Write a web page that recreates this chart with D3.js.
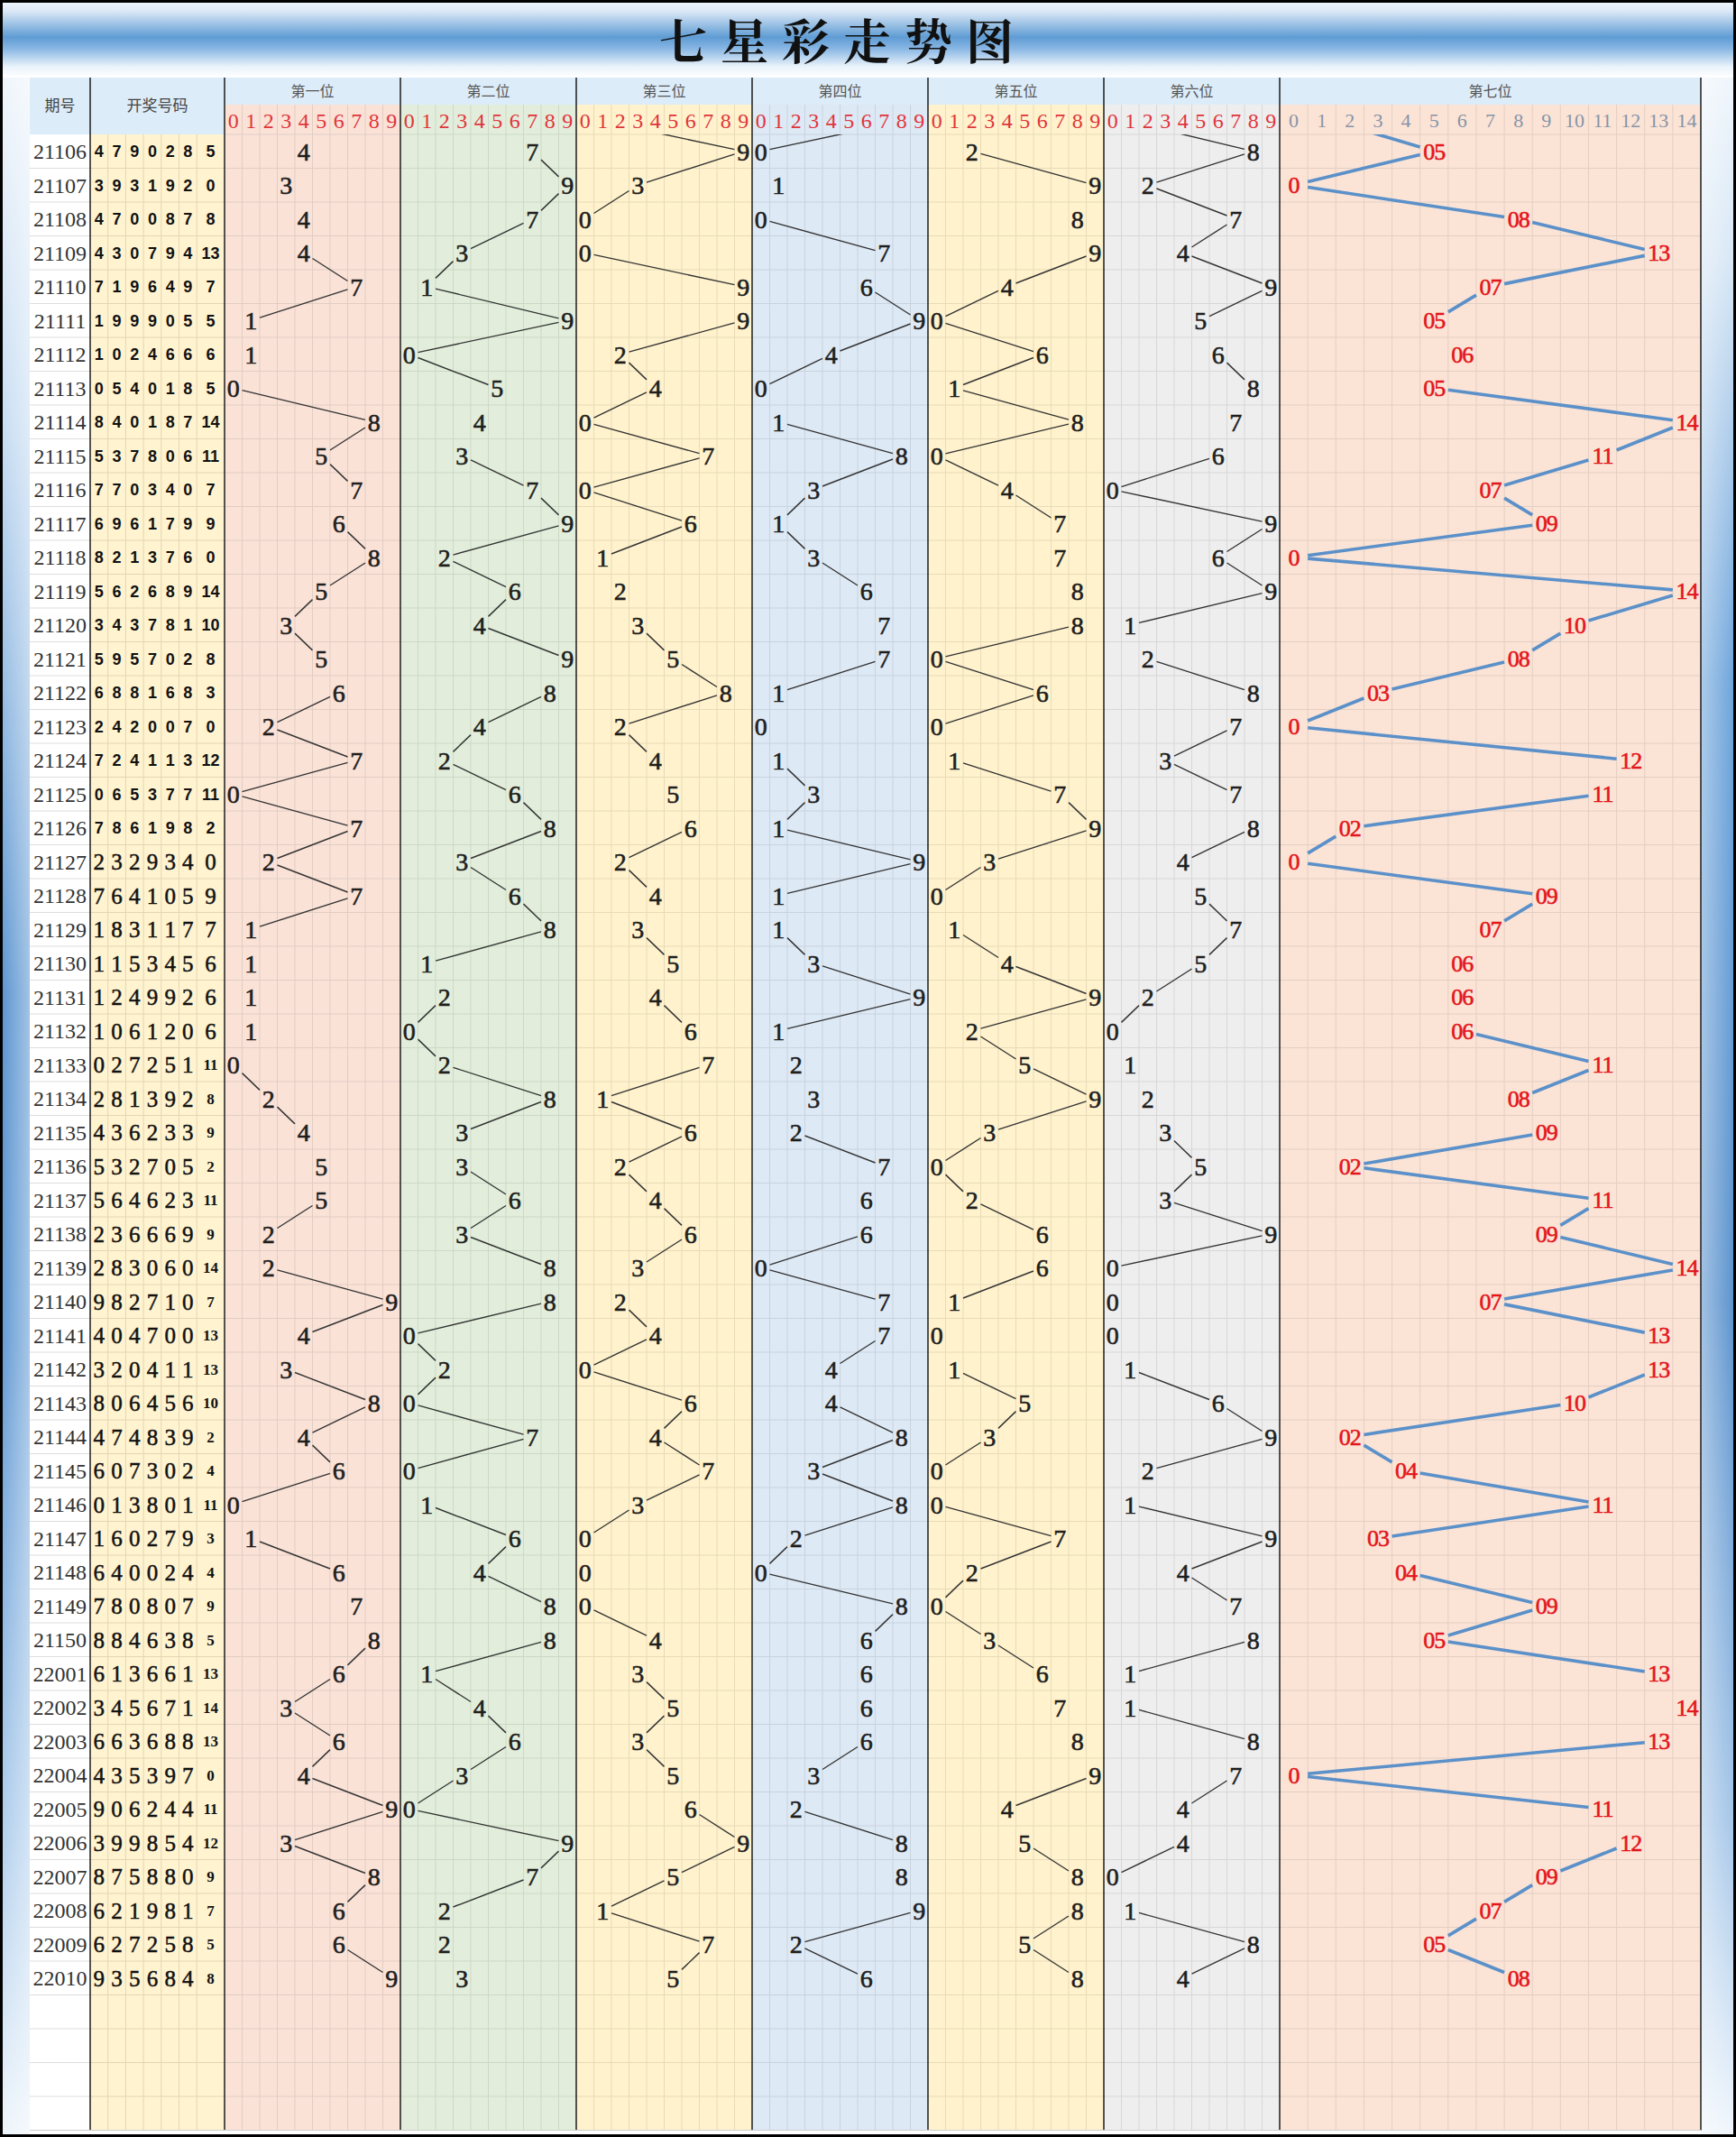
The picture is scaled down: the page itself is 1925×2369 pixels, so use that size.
<!DOCTYPE html>
<html>
<head>
<meta charset="utf-8">
<script src="https://cdn.jsdelivr.net/npm/d3@7"></script>
<style>
body { margin: 0; background: #fff; }
svg { display: block; }
</style>
</head>
<body>
<svg id="chart"></svg>
<script>
// 期号
var periods = ["21106","21107","21108","21109","21110","21111","21112","21113","21114","21115",
    "21116","21117","21118","21119","21120","21121","21122","21123","21124","21125",
    "21126","21127","21128","21129","21130","21131","21132","21133","21134","21135",
    "21136","21137","21138","21139","21140","21141","21142","21143","21144","21145",
    "21146","21147","21148","21149","21150","22001","22002","22003","22004","22005",
    "22006","22007","22008","22009","22010"];

// 开奖号码, one array per position
var pos1 = [4,3,4,4,7,1,1,0,8,5,7,6,8,5,3,5,6,2,7,0,7,2,7,1,1,1,1,0,2,4,5,5,2,2,9,4,3,8,4,6,0,1,6,7,8,6,3,6,4,9,3,8,6,6,9];
var pos2 = [7,9,7,3,1,9,0,5,4,3,7,9,2,6,4,9,8,4,2,6,8,3,6,8,1,2,0,2,8,3,3,6,3,8,8,0,2,0,7,0,1,6,4,8,8,1,4,6,3,0,9,7,2,2,3];
var pos3 = [9,3,0,0,9,9,2,4,0,7,0,6,1,2,3,5,8,2,4,5,6,2,4,3,5,4,6,7,1,6,2,4,6,3,2,4,0,6,4,7,3,0,0,0,4,3,5,3,5,6,9,5,1,7,5];
var pos4 = [0,1,0,7,6,9,4,0,1,8,3,1,3,6,7,7,1,0,1,3,1,9,1,1,3,9,1,2,3,2,7,6,6,0,7,7,4,4,8,3,8,2,0,8,6,6,6,6,3,2,8,8,9,2,6];
var pos5 = [2,9,8,9,4,0,6,1,8,0,4,7,7,8,8,0,6,0,1,7,9,3,0,1,4,9,2,5,9,3,0,2,6,6,1,0,1,5,3,0,0,7,2,0,3,6,7,8,9,4,5,8,8,5,8];
var pos6 = [8,2,7,4,9,5,6,8,7,6,0,9,6,9,1,2,8,7,3,7,8,4,5,7,5,2,0,1,2,3,5,3,9,0,0,0,1,6,9,2,1,9,4,7,8,1,1,8,7,4,4,0,1,8,4];
var pos7 = [5,0,8,13,7,5,6,5,14,11,7,9,0,14,10,8,3,0,12,11,2,0,9,7,6,6,6,11,8,9,2,11,9,14,7,13,13,10,2,4,11,3,4,9,5,13,14,13,0,11,12,9,7,5,8];

// value of the period before 21106 (its row is hidden under the header)
var prevDraw = [4, 7, 0, 9, 2, 0, 1];

var groupNames = ["第一位","第二位","第三位","第四位","第五位","第六位","第七位"];
var digitTicks = ["0","1","2","3","4","5","6","7","8","9"];
var lastTicks = ["0","1","2","3","4","5","6","7","8","9","10","11","12","13","14"];

var series = [pos1, pos2, pos3, pos4, pos5, pos6, pos7];

var W = 1925, H = 2369;
var tableLeft = 33, tableRight = 1886, tableTop = 86;
var head1 = 116, dataTop = 149, rowH = 37.5, blankRows = 4;
var nRows = periods.length + blankRows;
var tableBottom = dataTop + nRows * rowH;
var groupW = 195;
var groupColors = ["#fae2d7","#e2eedb","#fff2cc","#dde9f5","#fff2cc","#eeeeee","#fbe4d6"];
var numEdges = [100, 119.7, 139.4, 159.1, 178.8, 198.5, 218.2, 249];

var serif = "'Liberation Serif','Times New Roman','DejaVu Serif',serif";
var sans = "'Liberation Sans',Arial,sans-serif";
var cjk = "'Noto Sans CJK SC','Noto Sans',sans-serif";

var svg = d3.select("#chart").attr("width", W).attr("height", H);
var defs = svg.append("defs");

function linGrad(id, vertical, stops) {
    var g = defs.append("linearGradient").attr("id", id)
        .attr("x1", 0).attr("y1", 0)
        .attr("x2", vertical ? 0 : 1).attr("y2", vertical ? 1 : 0);
    stops.forEach(function (s) {
        g.append("stop").attr("offset", s[0]).attr("stop-color", s[1])
            .attr("stop-opacity", s.length > 2 ? s[2] : 1);
    });
}

linGrad("banner", true, [[0, "#f3f8fd"], [0.14, "#dce9f6"], [0.48, "#5f9cd4"], [0.62, "#86b5e3"], [0.86, "#eaf3fb"], [1, "#ffffff"]]);
linGrad("sideL", true, [[0, "#f2f7fc"], [0.18, "#c6dcf2"], [0.45, "#5792cf"], [0.62, "#6199d3"], [0.85, "#aecdec"], [1, "#eef5fb"]]);
linGrad("sideR", true, [[0, "#f2f7fc"], [0.1, "#d6e6f5"], [0.3, "#6aa2da"], [0.6, "#5890cc"], [0.85, "#a3c5e8"], [1, "#f0f6fc"]]);
linGrad("fadeL", false, [[0, "#fff", 0], [1, "#fff", 0.45]]);
linGrad("fadeR", false, [[0, "#fff", 0.45], [1, "#fff", 0]]);

defs.append("clipPath").attr("id", "dataClip")
    .append("rect").attr("x", 0).attr("y", dataTop).attr("width", W).attr("height", tableBottom - dataTop);

svg.append("rect").attr("width", W).attr("height", H).attr("fill", "#fff");

// side strips and title banner
svg.append("rect").attr("x", 0).attr("y", 60).attr("width", tableLeft).attr("height", H - 60).attr("fill", "url(#sideL)");
svg.append("rect").attr("x", 0).attr("y", 60).attr("width", tableLeft).attr("height", H - 60).attr("fill", "url(#fadeL)");
svg.append("rect").attr("x", tableRight).attr("y", 60).attr("width", W - tableRight).attr("height", H - 60).attr("fill", "url(#sideR)");
svg.append("rect").attr("x", tableRight).attr("y", 60).attr("width", W - tableRight).attr("height", H - 60).attr("fill", "url(#fadeR)");
svg.append("rect").attr("x", 0).attr("y", 0).attr("width", W).attr("height", tableTop).attr("fill", "url(#banner)");

svg.append("text")
    .attr("x", 935).attr("y", 66)
    .attr("text-anchor", "middle")
    .style("font-family", "'Noto Serif CJK SC','Noto Sans CJK SC',sans-serif")
    .style("font-size", "53px")
    .style("font-weight", "700")
    .style("letter-spacing", "15px")
    .style("fill", "#111")
    .text("七星彩走势图");

// header background
svg.append("rect").attr("x", tableLeft).attr("y", tableTop).attr("width", tableRight - tableLeft).attr("height", head1 - tableTop).attr("fill", "#dcecf9");
svg.append("rect").attr("x", tableLeft).attr("y", tableTop).attr("width", numEdges[7] - tableLeft).attr("height", dataTop - tableTop).attr("fill", "#dcecf9");

// body backgrounds
var rowY = d3.scaleBand().domain(d3.range(-1, nRows)).range([dataTop - rowH, tableBottom]);

svg.append("rect").attr("x", tableLeft).attr("y", dataTop).attr("width", 100 - tableLeft).attr("height", tableBottom - dataTop).attr("fill", "#fff");
svg.append("rect").attr("x", 100).attr("y", dataTop).attr("width", 149).attr("height", tableBottom - dataTop).attr("fill", "#fff3d0");

var colScales = series.map(function (s, gi) {
    if (gi < 6) {
        var x0 = numEdges[7] + gi * groupW;
        return d3.scaleBand().domain(d3.range(10)).range([x0, x0 + groupW]);
    }
    return d3.scaleBand().domain(d3.range(15)).range([1419, tableRight]);
});

colScales.forEach(function (sc, gi) {
    var r = sc.range();
    svg.append("rect").attr("x", r[0]).attr("y", head1).attr("width", r[1] - r[0]).attr("height", tableBottom - head1)
        .attr("fill", groupColors[gi]);
    var gridColor = d3.color(groupColors[gi]).darker(0.28).formatHex();
    var g = svg.append("g").attr("stroke", gridColor).attr("stroke-width", 1);
    sc.domain().slice(1).forEach(function (d) {
        g.append("line").attr("x1", sc(d)).attr("x2", sc(d)).attr("y1", head1).attr("y2", tableBottom);
    });
    d3.range(0, nRows).forEach(function (i) {
        g.append("line").attr("x1", r[0]).attr("x2", r[1]).attr("y1", rowY(i)).attr("y2", rowY(i));
    });
});

// grid in number and period columns
var ng = svg.append("g").attr("stroke", "#e6d6b0").attr("stroke-width", 1);
numEdges.slice(1, 7).forEach(function (x) {
    ng.append("line").attr("x1", x).attr("x2", x).attr("y1", dataTop).attr("y2", tableBottom);
});
d3.range(1, nRows + 1).forEach(function (i) {
    var y = dataTop + i * rowH;
    ng.append("line").attr("x1", 100).attr("x2", 249).attr("y1", y).attr("y2", y);
    svg.append("line").attr("x1", tableLeft).attr("x2", 100).attr("y1", y).attr("y2", y)
        .attr("stroke", "#dddddd").attr("stroke-width", 1.2);
});

// group separators
var seps = [100, 249].concat(colScales.map(function (sc) { return sc.range()[1]; }));
seps.forEach(function (x) {
    svg.append("line").attr("x1", x).attr("x2", x).attr("y1", tableTop).attr("y2", tableBottom)
        .attr("stroke", "#2a2a2a").attr("stroke-width", 1.6);
});

// header texts
svg.append("text").attr("x", 66.5).attr("y", (tableTop + dataTop) / 2).attr("dy", "0.35em")
    .attr("text-anchor", "middle").style("font-family", cjk).style("font-size", "17px").style("fill", "#444").text("期号");
svg.append("text").attr("x", 174.5).attr("y", (tableTop + dataTop) / 2).attr("dy", "0.35em")
    .attr("text-anchor", "middle").style("font-family", cjk).style("font-size", "17px").style("fill", "#444").text("开奖号码");

colScales.forEach(function (sc, gi) {
    var r = sc.range();
    svg.append("text").attr("x", (r[0] + r[1]) / 2).attr("y", (tableTop + head1) / 2).attr("dy", "0.35em")
        .attr("text-anchor", "middle").style("font-family", cjk).style("font-size", "16px").style("fill", "#555")
        .text(groupNames[gi]);
    var ticks = gi < 6 ? digitTicks : lastTicks;
    svg.append("g").selectAll("text").data(sc.domain()).join("text")
        .attr("x", function (d) { return sc(d) + sc.bandwidth() / 2; })
        .attr("y", (head1 + dataTop) / 2 + 1).attr("dy", "0.35em")
        .attr("text-anchor", "middle")
        .style("font-family", serif)
        .style("font-size", gi < 6 ? "24px" : "22px")
        .style("fill", gi < 6 ? "#e0353b" : "#8793a8")
        .text(function (d) { return ticks[d]; });
});

// period column
svg.append("g").selectAll("text").data(periods).join("text")
    .attr("x", 66.5)
    .attr("y", function (d, i) { return rowY(i) + rowH / 2; })
    .attr("dy", "0.35em").attr("text-anchor", "middle")
    .style("font-family", serif).style("font-size", "24px").style("fill", "#333")
    .text(function (d) { return d; });

// 开奖号码 column
periods.forEach(function (p, i) {
    var yc = rowY(i) + rowH / 2;
    series.forEach(function (s, gi) {
        var x = (numEdges[gi] + numEdges[gi + 1]) / 2;
        var t = svg.append("text").attr("x", x).attr("y", yc).attr("dy", "0.35em")
            .attr("text-anchor", "middle").style("fill", "#111").text(s[i]);
        if (i < 21) {
            t.style("font-family", sans).style("font-size", "18px").style("font-weight", "bold");
        } else if (gi < 6 || i < 27) {
            t.style("font-family", serif).style("font-size", "25px")
                .style("stroke", "#111").style("stroke-width", 0.5);
        } else {
            t.style("font-family", serif).style("font-size", "17px").style("font-weight", "bold");
        }
    });
});

// trend lines, cut at the cell edges
function cellSegment(a, b, hw, hh) {
    var dx = b.x - a.x, dy = b.y - a.y;
    var tx = dx === 0 ? Infinity : hw / Math.abs(dx);
    var ty = dy === 0 ? Infinity : hh / Math.abs(dy);
    var t = Math.min(tx, ty);
    if (t >= 0.49) return null;
    return [a.x + dx * t, a.y + dy * t, b.x - dx * t, b.y - dy * t];
}

var lineLayer = svg.append("g").attr("clip-path", "url(#dataClip)");
var labelLayer = svg.append("g");

series.forEach(function (s, gi) {
    var sc = colScales[gi];
    var vals = [prevDraw[gi]].concat(s);
    var pts = vals.map(function (v, k) {
        return { x: sc(v) + sc.bandwidth() / 2, y: rowY(k - 1) + rowH / 2, v: v };
    });
    for (var k = 1; k < pts.length; k++) {
        var seg = cellSegment(pts[k - 1], pts[k], sc.bandwidth() / 2, rowH / 2);
        if (!seg) continue;
        lineLayer.append("line")
            .attr("x1", seg[0]).attr("y1", seg[1]).attr("x2", seg[2]).attr("y2", seg[3])
            .attr("stroke", gi < 6 ? "#333" : "#5b90c9")
            .attr("stroke-width", gi < 6 ? 1.4 : 3.6);
    }
    labelLayer.append("g").selectAll("text").data(pts.slice(1)).join("text")
        .attr("x", function (d) { return d.x; })
        .attr("y", function (d) { return d.y; })
        .attr("dy", "0.35em").attr("text-anchor", "middle")
        .style("font-family", serif)
        .style("font-size", gi < 6 ? "28px" : "26px")
        .style("letter-spacing", gi < 6 ? "0px" : "-1px")
        .style("fill", gi < 6 ? "#1e1e1e" : "#e4151c")
        .style("stroke", gi < 6 ? "#1e1e1e" : "#e4151c")
        .style("stroke-width", 0.6)
        .text(function (d) { return gi < 6 ? d.v : (d.v === 0 ? "0" : d3.format("02d")(d.v)); });
});

// bottom line of the table and outer frame
svg.append("line").attr("x1", tableLeft).attr("x2", tableRight).attr("y1", tableBottom).attr("y2", tableBottom)
    .attr("stroke", "#cfcfcf").attr("stroke-width", 1);
svg.append("rect").attr("x", 1.5).attr("y", 1.5).attr("width", W - 3).attr("height", H - 3)
    .attr("fill", "none").attr("stroke", "#000").attr("stroke-width", 3);
</script>
</body>
</html>
